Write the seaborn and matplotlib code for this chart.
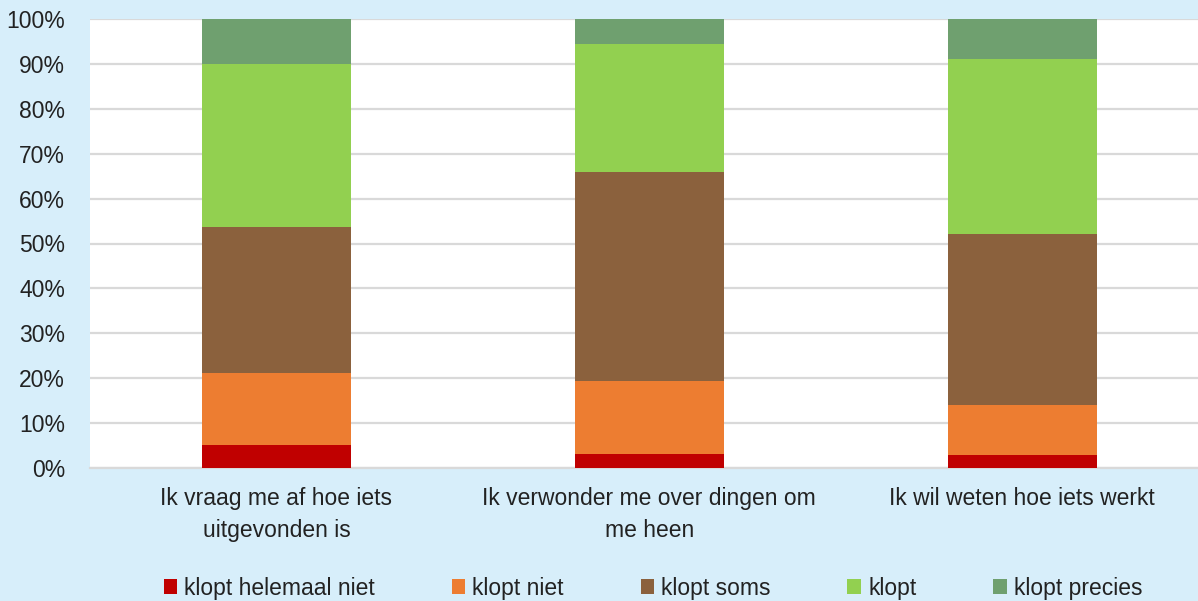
import matplotlib
matplotlib.use("Agg")
import matplotlib.pyplot as plt
import seaborn as sns
import pandas as pd
import numpy as np
from matplotlib.patches import Patch
from matplotlib.ticker import FuncFormatter

categories = ["Ik vraag me af hoe iets\nuitgevonden is",
              "Ik verwonder me over dingen om\nme heen",
              "Ik wil weten hoe iets werkt"]
series = ["klopt helemaal niet", "klopt niet", "klopt soms", "klopt", "klopt precies"]
klopt_helemaal_niet = [5.1, 3.1, 2.9]
klopt_niet = [16.0, 16.3, 11.1]
klopt_soms = [32.6, 46.5, 38.1]
klopt = [36.3, 28.6, 39.0]
klopt_precies = [10.0, 5.5, 8.9]
values = [klopt_helemaal_niet, klopt_niet, klopt_soms, klopt, klopt_precies]
colors = ["#C00000", "#ED7D31", "#8B613D", "#92D050", "#6FA06F"]

sns.set_theme(style="white")
plt.rcParams['font.family'] = ['Liberation Sans', 'DejaVu Sans']

bg = "#D7EEFA"
fig = plt.figure(figsize=(11.98, 6.01), dpi=100, facecolor=bg)
ax = fig.add_axes([90/1198, 133/601, 1118.5/1198, 449/601])
ax.set_facecolor("white")

df = pd.DataFrame({"cat": np.repeat(categories, len(series)),
                   "series": series * len(categories),
                   "val": [values[j][i] for i in range(len(categories)) for j in range(len(series))]})
bottom = np.zeros(len(categories))
for j, s in enumerate(series):
    sub = df[df["series"] == s]
    sns.barplot(data=sub, x="cat", y="val", order=categories, color=colors[j],
                width=0.4, bottom=bottom, ax=ax, saturation=1, edgecolor="none",
                linewidth=0, zorder=3)
    bottom = bottom + np.array(values[j])

ax.set_ylim(0, 100)
ax.set_xlim(-0.5, 2.5)
ax.set_yticks(np.arange(0, 101, 10))
ax.yaxis.set_major_formatter(FuncFormatter(lambda v, p: f"{int(v)}%"))
ax.grid(axis="y", color="#D9D9D9", linewidth=1.6, zorder=0)
ax.set_axisbelow(True)
for sp in ["left", "right", "top"]:
    ax.spines[sp].set_visible(False)
ax.spines["bottom"].set_color("#D9D9D9")
ax.spines["bottom"].set_linewidth(1.6)
ax.tick_params(axis="y", labelsize=16.5, colors="#222222", length=0, pad=18)
ax.tick_params(axis="x", labelsize=16.5, colors="#222222", length=0, pad=14)
ax.set_xlabel("")
ax.set_ylabel("")
for lab in ax.get_xticklabels():
    lab.set_linespacing(1.45)
for lab in ax.get_yticklabels():
    lab.set_horizontalalignment("right")

handles = [Patch(facecolor=c, edgecolor="none") for c in colors]
fig.legend(handles, series, loc="center", bbox_to_anchor=(0.545, 13/601), ncol=5,
           frameon=False, fontsize=16.5, handlelength=0.6, handleheight=0.6,
           handletextpad=0.3, columnspacing=3.35, labelcolor="#222222")

fig.savefig("out.png", dpi=100, facecolor=bg)
